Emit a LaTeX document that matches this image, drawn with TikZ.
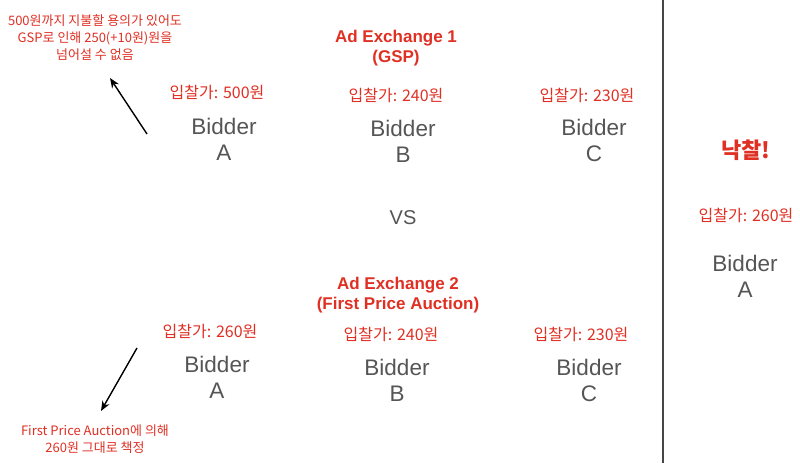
\documentclass[tikz,border=0pt]{standalone}
\usepackage{fontspec}
\setmainfont{Liberation Sans}
\newfontfamily\kr{Noto Sans CJK KR}
\usetikzlibrary{arrows.meta}
\definecolor{adred}{RGB}{224,48,36}
\definecolor{bidgray}{RGB}{85,85,85}
\definecolor{linegray}{RGB}{70,70,70}
\tikzset{
  bidder/.style={align=center, text=bidgray, font=\fontsize{22.5}{26}\selectfont},
  price/.style={text=adred, font=\kr\fontsize{16}{18}\selectfont},
  title/.style={align=center, text=adred, font=\bfseries\fontsize{17}{20.5}\selectfont},
  note/.style={align=center, text=adred, font=\kr\fontsize{13}{17}\selectfont},
  pointer/.style={-{Stealth[length=10pt,width=8pt]}, line width=1.4pt, black},
}
\begin{document}
\begin{tikzpicture}[x=1pt, y=-1pt]
        \useasboundingbox[fill=white] (0,0) rectangle (800,463);

        % Ad Exchange 1 (GSP)
        \node[title] (ex1) at (396,48) {Ad Exchange 1\\(GSP)};
        \node[price] (p1a) at (217,92) {입찰가: 500원};
        \node[price] (p1b) at (396,95) {입찰가: 240원};
        \node[price] (p1c) at (587,95) {입찰가: 230원};
        \node[bidder] (b1a) at (224,139) {Bidder\\A};
        \node[bidder] (b1b) at (403,141) {Bidder\\B};
        \node[bidder] (b1c) at (594,140) {Bidder\\C};

        % Annotation GSP
        \node[note] (n1) at (95,38) {500원까지 지불할 용의가 있어도\\GSP로 인해 250(+10원)원을\\넘어설 수 없음};
        \coordinate (n1from) at (147,134);
        \coordinate (n1to) at (110,78);
        \draw[pointer] (n1from) -- (n1to);

        % VS
        \node[text=bidgray, font=\fontsize{20}{24}\selectfont] (vs) at (403,218) {VS};

        % Ad Exchange 2 (First Price Auction)
        \node[title] (ex2) at (398,295) {Ad Exchange 2\\(First Price Auction)};
        \node[price] (p2a) at (210,331) {입찰가: 260원};
        \node[price] (p2b) at (391,334) {입찰가: 240원};
        \node[price] (p2c) at (581,334) {입찰가: 230원};
        \node[bidder] (b2a) at (217,377) {Bidder\\A};
        \node[bidder] (b2b) at (397,380) {Bidder\\B};
        \node[bidder] (b2c) at (589,380) {Bidder\\C};

        % Annotation First Price
        \node[note] (n2) at (95,439) {First Price Auction에 의해\\260원 그대로 책정};
        \coordinate (n2from) at (137,348);
        \coordinate (n2to) at (101,411);
        \draw[pointer] (n2from) -- (n2to);

        % Séparation
        \coordinate (sepTop) at (663,0);
        \coordinate (sepBot) at (663,463);
        \draw[line width=2pt, linegray] (sepTop) -- (sepBot);

        % Résultat
        \node[text=adred, font=\kr\bfseries\fontsize{22}{25}\selectfont] (win) at (746,150) {낙찰!};
        \node[price] (pw) at (746,215) {입찰가: 260원};
        \node[bidder] (bw) at (745,276) {Bidder\\A};
\end{tikzpicture}
\end{document}
